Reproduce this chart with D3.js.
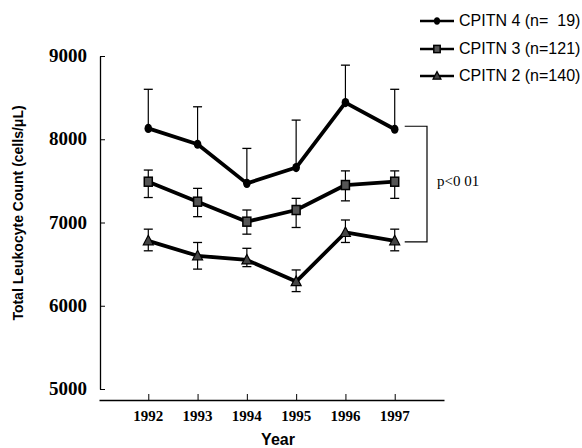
<!DOCTYPE html>
<html>
<head>
<meta charset="utf-8">
<script src="https://cdn.jsdelivr.net/npm/d3@7"></script>
<style>
  body { margin: 0; background: #fff; }
  svg { display: block; }
</style>
</head>
<body>
<div id="chart"></div>
<script>
const years = [1992, 1993, 1994, 1995, 1996, 1997];
const yTicks = [5000, 6000, 7000, 8000, 9000];

const cpitn4 = [8130, 7940, 7470, 7660, 8440, 8120];
const cpitn4Up = [8600, 8390, 7890, 8230, 8890, 8600];

const cpitn3 = [7490, 7250, 7010, 7150, 7450, 7490];
const cpitn3Up = [7630, 7410, 7150, 7290, 7620, 7620];
const cpitn3Lo = [7300, 7070, 6860, 6940, 7260, 7290];

const cpitn2 = [6780, 6600, 6550, 6290, 6880, 6780];
const cpitn2Up = [6920, 6760, 6690, 6430, 7030, 6920];
const cpitn2Lo = [6660, 6440, 6470, 6170, 6760, 6660];

const seriesNames = ["CPITN 4 (n=  19)", "CPITN 3 (n=121)", "CPITN 2 (n=140)"];
const markerTypes = ["circle", "square", "triangle"];

const width = 582, height = 448;

const svg = d3.select("#chart")
    .append("svg")
    .attr("width", width)
    .attr("height", height);

const x = d3.scaleLinear()
    .domain([1991, 1998])
    .range([99, 444]);

const y = d3.scaleLinear()
    .domain([5000, 9000])
    .range([389, 56]);

// x axis (separate from y axis)
svg.append("g")
    .attr("transform", "translate(0,400)")
    .call(d3.axisTop(x).tickValues(years).tickSize(6).tickSizeOuter(0).tickFormat(d3.format("d")))
    .call(g => g.selectAll("text").remove())
    .call(g => g.select(".domain").attr("stroke-width", 1.3));

svg.append("g")
    .selectAll("text")
    .data(years)
    .join("text")
    .attr("x", d => x(d))
    .attr("y", 421)
    .attr("text-anchor", "middle")
    .style("font-family", "'Liberation Serif', serif")
    .style("font-weight", "bold")
    .style("font-size", "15px")
    .text(d => d);

// y axis
svg.append("g")
    .attr("transform", "translate(100,0)")
    .call(d3.axisRight(y).tickValues(yTicks).tickSize(5).tickSizeOuter(0))
    .call(g => g.selectAll("text").remove())
    .call(g => g.select(".domain").attr("stroke-width", 1.3));

svg.append("g")
    .selectAll("text")
    .data(yTicks)
    .join("text")
    .attr("x", 87)
    .attr("y", d => y(d) + 6)
    .attr("text-anchor", "end")
    .style("font-family", "'Liberation Serif', serif")
    .style("font-weight", "bold")
    .style("font-size", "19px")
    .text(d => d);

// axis titles
svg.append("text")
    .attr("x", 278)
    .attr("y", 445)
    .attr("text-anchor", "middle")
    .style("font-family", "'Liberation Sans', Arial, sans-serif")
    .style("font-weight", "bold")
    .style("font-size", "16px")
    .text("Year");

svg.append("text")
    .attr("transform", "translate(23,213) rotate(-90)")
    .attr("text-anchor", "middle")
    .style("font-family", "'Liberation Sans', Arial, sans-serif")
    .style("font-weight", "bold")
    .style("font-size", "14px")
    .text("Total Leukocyte Count (cells/\u03bcL)");

function drawMarker(g, type, cx, cy, s = 1) {
    if (type === "circle") {
        g.append("ellipse").attr("cx", cx).attr("cy", cy).attr("rx", 3.8 * s).attr("ry", 4.6 * s).attr("fill", "#000");
    } else if (type === "square") {
        g.append("rect").attr("x", cx - 4 * s).attr("y", cy - 4.5 * s).attr("width", 8 * s).attr("height", 9 * s)
            .attr("fill", "#555").attr("stroke", "#000").attr("stroke-width", 1.5);
    } else {
        g.append("path")
            .attr("d", `M${cx},${cy - 5.5 * s}L${cx + 5 * s},${cy + 4 * s}L${cx - 5 * s},${cy + 4 * s}Z`)
            .attr("fill", "#444").attr("stroke", "#000").attr("stroke-width", 1.2);
    }
}

function drawSeries(vals, up, lo, type) {
    const g = svg.append("g");
    years.forEach((yr, i) => {
        const top = up ? up[i] : vals[i];
        const bot = lo ? lo[i] : vals[i];
        g.append("line")
            .attr("x1", x(yr)).attr("x2", x(yr))
            .attr("y1", y(top)).attr("y2", y(bot))
            .attr("stroke", "#000").attr("stroke-width", 1.2);
        if (up) g.append("line")
            .attr("x1", x(yr) - 4.5).attr("x2", x(yr) + 4.5)
            .attr("y1", y(top)).attr("y2", y(top))
            .attr("stroke", "#000").attr("stroke-width", 1.3);
        if (lo) g.append("line")
            .attr("x1", x(yr) - 4.5).attr("x2", x(yr) + 4.5)
            .attr("y1", y(bot)).attr("y2", y(bot))
            .attr("stroke", "#000").attr("stroke-width", 1.3);
    });
    g.append("path")
        .datum(vals)
        .attr("fill", "none")
        .attr("stroke", "#000")
        .attr("stroke-width", 3.8)
        .attr("stroke-linejoin", "round")
        .attr("d", d3.line().x((d, i) => x(years[i])).y(d => y(d)));
    vals.forEach((v, i) => drawMarker(g, type, x(years[i]), y(v)));
}

drawSeries(cpitn4, cpitn4Up, null, "circle");
drawSeries(cpitn3, cpitn3Up, cpitn3Lo, "square");
drawSeries(cpitn2, cpitn2Up, cpitn2Lo, "triangle");

// significance bracket
const bx0 = x(1997) + 10, bx1 = 427;
svg.append("path")
    .attr("d", `M${bx0},${y(cpitn4[5]) - 3}H${bx1}V${y(cpitn2[5]) + 1}H${bx0}`)
    .attr("fill", "none")
    .attr("stroke", "#000")
    .attr("stroke-width", 1.2);

svg.append("text")
    .attr("x", 437)
    .attr("y", 186)
    .style("font-family", "'Liberation Serif', serif")
    .style("font-size", "15px")
    .text("p<0 01");

// legend
const legend = svg.append("g");
const legendY = [21, 49, 76];
seriesNames.forEach((name, i) => {
    legend.append("line")
        .attr("x1", 420).attr("x2", 454)
        .attr("y1", legendY[i]).attr("y2", legendY[i])
        .attr("stroke", "#000").attr("stroke-width", 2.4);
    drawMarker(legend, markerTypes[i], 437, legendY[i], 0.8);
    legend.append("text")
        .attr("x", 459)
        .attr("y", legendY[i] + 5)
        .attr("xml:space", "preserve")
        .style("white-space", "pre")
        .style("font-family", "'Liberation Sans', Arial, sans-serif")
        .style("font-size", "16px")
        .text(name);
});
</script>
</body>
</html>
